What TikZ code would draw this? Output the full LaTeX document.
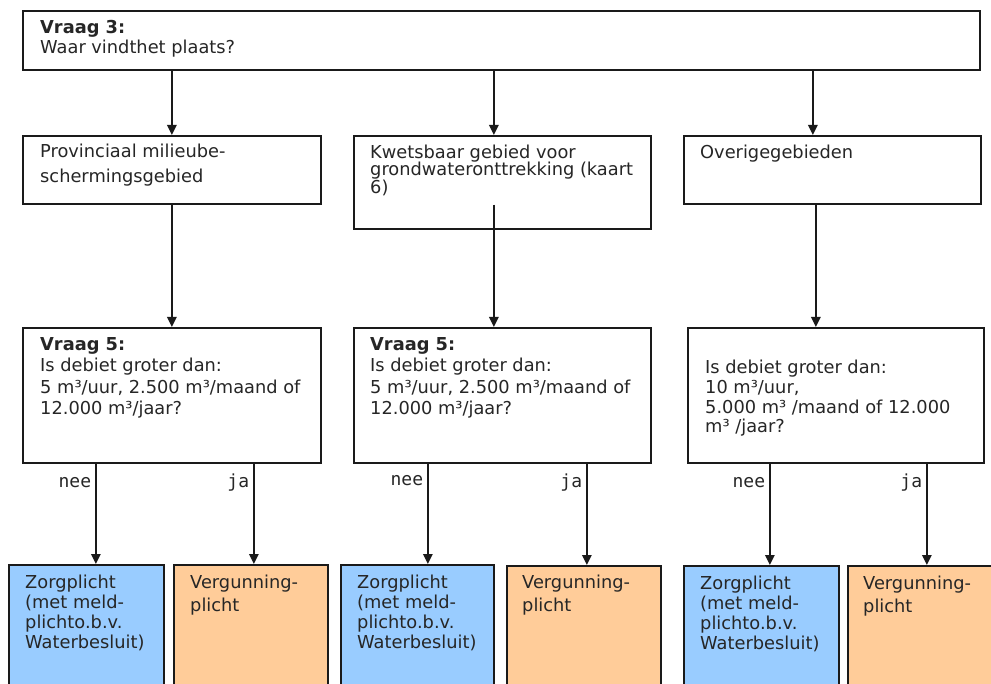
\documentclass[tikz,border=0pt]{standalone}
\usepackage{fontspec}
\setmainfont{DejaVu Sans}
\newfontfamily\lblfont{DejaVu Sans Mono}
\usetikzlibrary{arrows.meta}
\definecolor{zorg}{HTML}{99CCFF}
\definecolor{verg}{HTML}{FFCC99}
\definecolor{txt}{HTML}{262626}
\definecolor{edge}{HTML}{1A1A1A}
\begin{document}
\begin{tikzpicture}[x=1pt,y=-1pt,
  box/.style={draw=edge, line width=1.7pt, anchor=north west, inner sep=0pt, fill=white},
  zbox/.style={box, fill=zorg, minimum height=160pt},
  vbox/.style={box, fill=verg, minimum height=160pt},
  txtnode/.style={anchor=north west, inner sep=0pt, align=left, text=txt},
  arr/.style={draw=edge, line width=1.5pt, -{Triangle[width=9.5pt,length=10pt]}},
  lbl/.style={font=\lblfont\fontsize{18}{20}\selectfont, text=txt, inner sep=0pt, anchor=base east, xshift=-4pt}
]
\clip (0,0) rectangle (991,684);
\fill[white] (0,0) rectangle (991,684);
% top box
\node[box, minimum width=957pt, minimum height=59pt] (top) at (22,10) {};
\node[txtnode, font=\fontsize{17.8}{20}\selectfont] (ttop) at (40,20) {\textbf{Vraag 3:}\\Waar vindthet plaats?};
% middle row
\node[box, minimum width=298pt, minimum height=68pt] (m1) at (22,135) {};
\node[box, minimum width=297pt, minimum height=93pt] (m2) at (353,135) {};
\node[box, minimum width=297pt, minimum height=68pt] (m3) at (683,135) {};
\node[txtnode, font=\fontsize{17.8}{25}\selectfont] (tm1) at (40,143.5) {Provinciaal milieube-\\schermingsgebied};
\node[txtnode, font=\fontsize{17.8}{17.5}\selectfont] (tm2) at (370,144.5) {Kwetsbaar gebied voor\\grondwateronttrekking (kaart\\6)};
\node[txtnode, font=\fontsize{17.8}{20}\selectfont] (tm3) at (700,145) {Overigegebieden};
% question row
\node[box, minimum width=298pt, minimum height=135pt] (q1) at (22,327) {};
\node[box, minimum width=297pt, minimum height=135pt] (q2) at (353,327) {};
\node[box, minimum width=296pt, minimum height=135pt] (q3) at (687,327) {};
\node[txtnode, font=\fontsize{17.8}{21.5}\selectfont] (tq1) at (40,337) {\textbf{Vraag 5:}\\Is debiet groter dan:\\5 m³/uur, 2.500 m³/maand of\\12.000 m³/jaar?};
\node[txtnode, font=\fontsize{17.8}{21.5}\selectfont] (tq2) at (370,337) {\textbf{Vraag 5:}\\Is debiet groter dan:\\5 m³/uur, 2.500 m³/maand of\\12.000 m³/jaar?};
\node[txtnode, font=\fontsize{17.8}{19.7}\selectfont] (tq3) at (705,360) {Is debiet groter dan:\\10 m³/uur,\\5.000 m³ /maand of 12.000\\m³ /jaar?};
% bottom row
\node[zbox, minimum width=155pt] (b1) at (8,564) {};
\node[vbox, minimum width=154pt] (b2) at (173,564) {};
\node[zbox, minimum width=153pt] (b3) at (340,564) {};
\node[vbox, minimum width=154pt] (b4) at (506,565) {};
\node[zbox, minimum width=155pt] (b5) at (683,565) {};
\node[vbox, minimum width=155pt] (b6) at (847,565) {};
\node[txtnode, font=\fontsize{17.8}{20}\selectfont] (tb1) at (25,575) {Zorgplicht\\(met meld-\\plichto.b.v.\\Waterbesluit)};
\node[txtnode, font=\fontsize{17.8}{23}\selectfont] (tb2) at (190,575) {Vergunning-\\plicht};
\node[txtnode, font=\fontsize{17.8}{20}\selectfont] (tb3) at (357,575) {Zorgplicht\\(met meld-\\plichto.b.v.\\Waterbesluit)};
\node[txtnode, font=\fontsize{17.8}{23}\selectfont] (tb4) at (522,575) {Vergunning-\\plicht};
\node[txtnode, font=\fontsize{17.8}{20}\selectfont] (tb5) at (700,576) {Zorgplicht\\(met meld-\\plichto.b.v.\\Waterbesluit)};
\node[txtnode, font=\fontsize{17.8}{23}\selectfont] (tb6) at (863,576) {Vergunning-\\plicht};
% connector end points
\coordinate (a1) at (m1.north);
\coordinate (a2) at ([xshift=-8.5pt]m2.north);
\coordinate (a3) at ([xshift=-19.5pt]m3.north);
\coordinate (c1) at (q1.north);
\coordinate (c2) at ([xshift=-8.5pt]q2.north);
\coordinate (c3) at ([xshift=-20pt]q3.north);
\coordinate (s2) at ([yshift=25pt]m2.south);
\coordinate (e1) at ([xshift=9.5pt]b1.north);
\coordinate (e2) at ([xshift=3pt]b2.north);
\coordinate (e3) at ([xshift=10.5pt]b3.north);
\coordinate (e4) at ([xshift=3pt]b4.north);
\coordinate (e5) at ([xshift=8.5pt]b5.north);
\coordinate (e6) at ([xshift=1.5pt]b6.north);
% connectors
\draw[arr] (a1 |- top.south) -- (a1);
\draw[arr] (a2 |- top.south) -- (a2);
\draw[arr] (a3 |- top.south) -- (a3);
\draw[arr] (c1 |- m1.south) -- (c1);
\draw[arr] (c2 |- s2) -- (c2);
\draw[arr] (c3 |- m3.south) -- (c3);
\draw[arr] (e1 |- q1.south) -- (e1) node[lbl, pos=0.235] {nee};
\draw[arr] (e2 |- q1.south) -- (e2) node[lbl, pos=0.235] {ja};
\draw[arr] (e3 |- q2.south) -- (e3) node[lbl, pos=0.22] {nee};
\draw[arr] (e4 |- q2.south) -- (e4) node[lbl, pos=0.235] {ja};
\draw[arr] (e5 |- q3.south) -- (e5) node[lbl, pos=0.235] {nee};
\draw[arr] (e6 |- q3.south) -- (e6) node[lbl, pos=0.235] {ja};
\end{tikzpicture}
\end{document}
